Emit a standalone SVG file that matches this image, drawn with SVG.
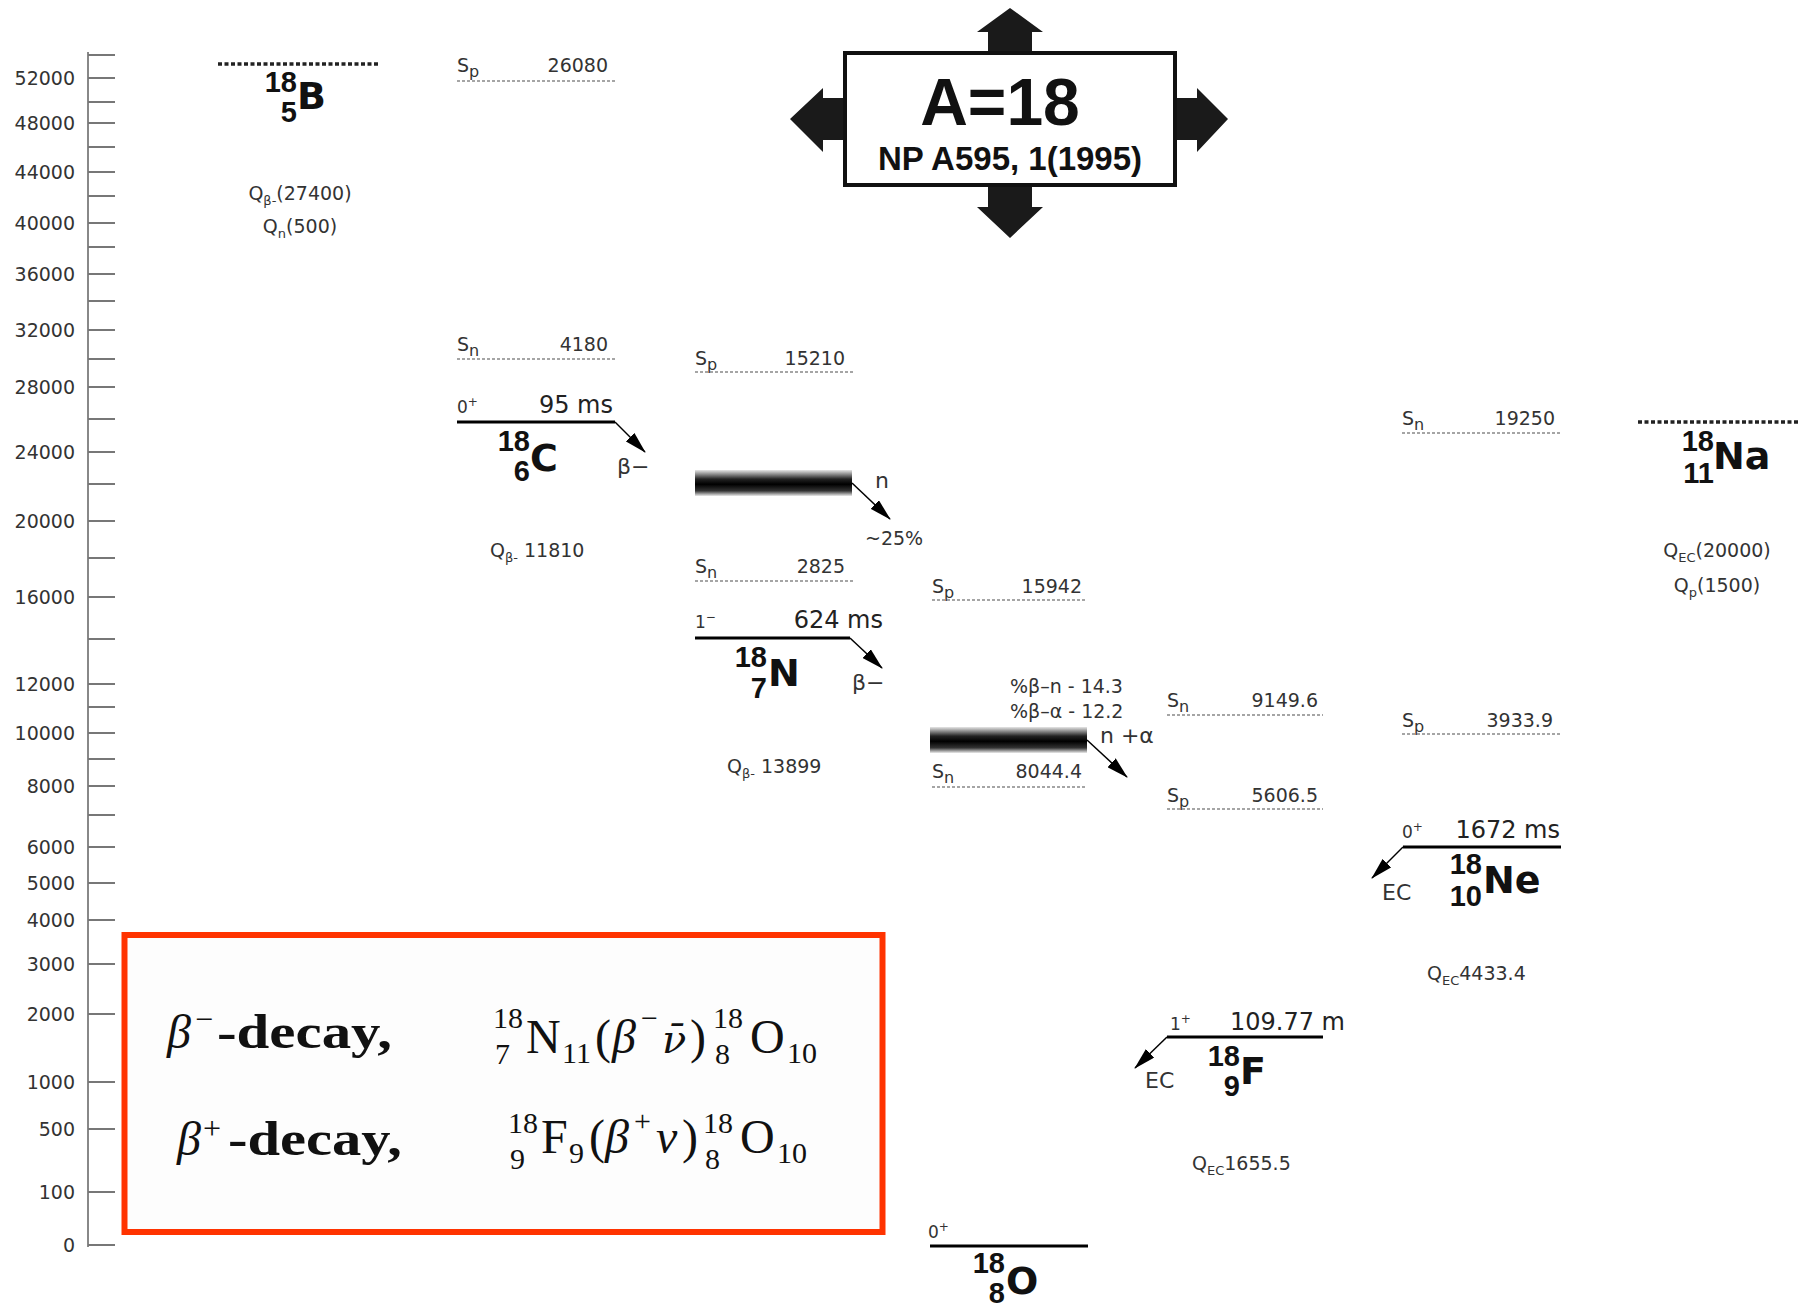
<svg xmlns="http://www.w3.org/2000/svg" width="1798" height="1307" viewBox="0 0 1798 1307">
<style>
.lbl{font-family:"DejaVu Sans",sans-serif;font-size:19px;fill:#333}
.ax{font-family:"DejaVu Sans",sans-serif;font-size:19px;fill:#333;text-anchor:end}
.end{text-anchor:end}
.sub{font-size:16px}
.qs{font-size:13px}
.sym{font-family:"DejaVu Sans",sans-serif;font-weight:bold;font-size:38px;fill:#111}
.num{font-family:"Liberation Sans",sans-serif;font-weight:bold;font-size:29px;fill:#111;text-anchor:end}
.life{font-family:"DejaVu Sans",sans-serif;font-size:24px;fill:#222}
.spin{font-family:"DejaVu Sans",sans-serif;font-size:17px;fill:#333}
.dec{font-family:"DejaVu Sans",sans-serif;font-size:22px;fill:#333}
.sep{stroke:#888;stroke-width:1.5;stroke-dasharray:3 2;fill:none}
.gs{stroke:#222;stroke-width:3.5;stroke-dasharray:4 2.5;fill:none}
.lev{stroke:#000;stroke-width:3}
.arr{stroke:#000;stroke-width:1.5;fill:none;marker-end:url(#ah)}
.tick{stroke:#777;stroke-width:2}
.blk{fill:#1a1a1a}
.m{font-family:"Liberation Serif",serif;fill:#111;font-size:48px}
.mi{font-style:italic}
.scr{font-size:30px}
</style>
<defs>
<marker id="ah" markerUnits="userSpaceOnUse" markerWidth="22" markerHeight="12" refX="21" refY="6" orient="auto">
<path d="M0,0 L22,6 L0,12 z" fill="#000"/>
</marker>
<linearGradient id="band" x1="0" y1="0" x2="0" y2="1">
<stop offset="0" stop-color="#e6e6e6"/>
<stop offset="0.35" stop-color="#222"/>
<stop offset="0.55" stop-color="#000"/>
<stop offset="0.8" stop-color="#333"/>
<stop offset="1" stop-color="#eaeaea"/>
</linearGradient>
</defs>
<rect width="1798" height="1307" fill="#fff"/>

<g id="axis">
<line x1="88" y1="52" x2="88" y2="1247" stroke="#888" stroke-width="2"/>
<g class="tick">
<line x1="88" y1="55" x2="115" y2="55"/><line x1="88" y1="78" x2="115" y2="78"/><line x1="88" y1="102" x2="115" y2="102"/><line x1="88" y1="123" x2="115" y2="123"/><line x1="88" y1="147" x2="115" y2="147"/><line x1="88" y1="172" x2="115" y2="172"/><line x1="88" y1="196" x2="115" y2="196"/><line x1="88" y1="223" x2="115" y2="223"/><line x1="88" y1="247" x2="115" y2="247"/><line x1="88" y1="274" x2="115" y2="274"/><line x1="88" y1="301" x2="115" y2="301"/><line x1="88" y1="330" x2="115" y2="330"/><line x1="88" y1="359" x2="115" y2="359"/><line x1="88" y1="387" x2="115" y2="387"/><line x1="88" y1="419" x2="115" y2="419"/><line x1="88" y1="452" x2="115" y2="452"/><line x1="88" y1="484" x2="115" y2="484"/><line x1="88" y1="521" x2="115" y2="521"/><line x1="88" y1="558" x2="115" y2="558"/><line x1="88" y1="597" x2="115" y2="597"/><line x1="88" y1="639" x2="115" y2="639"/><line x1="88" y1="684" x2="115" y2="684"/><line x1="88" y1="707" x2="115" y2="707"/><line x1="88" y1="733" x2="115" y2="733"/><line x1="88" y1="759" x2="115" y2="759"/><line x1="88" y1="786" x2="115" y2="786"/><line x1="88" y1="815" x2="115" y2="815"/><line x1="88" y1="847" x2="115" y2="847"/><line x1="88" y1="883" x2="115" y2="883"/><line x1="88" y1="920" x2="115" y2="920"/><line x1="88" y1="964" x2="115" y2="964"/><line x1="88" y1="1014" x2="115" y2="1014"/><line x1="88" y1="1082" x2="115" y2="1082"/><line x1="88" y1="1129" x2="115" y2="1129"/><line x1="88" y1="1192" x2="115" y2="1192"/><line x1="88" y1="1245" x2="115" y2="1245"/>
</g>
<text class="ax" x="75" y="85">52000</text>
<text class="ax" x="75" y="130">48000</text>
<text class="ax" x="75" y="179">44000</text>
<text class="ax" x="75" y="230">40000</text>
<text class="ax" x="75" y="281">36000</text>
<text class="ax" x="75" y="337">32000</text>
<text class="ax" x="75" y="394">28000</text>
<text class="ax" x="75" y="459">24000</text>
<text class="ax" x="75" y="528">20000</text>
<text class="ax" x="75" y="604">16000</text>
<text class="ax" x="75" y="691">12000</text>
<text class="ax" x="75" y="740">10000</text>
<text class="ax" x="75" y="793">8000</text>
<text class="ax" x="75" y="854">6000</text>
<text class="ax" x="75" y="890">5000</text>
<text class="ax" x="75" y="927">4000</text>
<text class="ax" x="75" y="971">3000</text>
<text class="ax" x="75" y="1021">2000</text>
<text class="ax" x="75" y="1089">1000</text>
<text class="ax" x="75" y="1136">500</text>
<text class="ax" x="75" y="1199">100</text>
<text class="ax" x="75" y="1252">0</text>
</g>

<g id="title">
<polygon class="blk" points="988,53 988,32 977,32 1010,8 1043,32 1032,32 1032,53"/>
<polygon class="blk" points="988,185 988,207 977,207 1010,238 1043,207 1032,207 1032,185"/>
<polygon class="blk" points="845,98 823,98 823,88 790,119 823,152 823,140 845,140"/>
<polygon class="blk" points="1175,98 1197,98 1197,88 1228,119 1197,152 1197,140 1175,140"/>
<rect x="845" y="53" width="330" height="132" fill="#fff" stroke="#111" stroke-width="4"/>
<text x="1000" y="125" text-anchor="middle" font-family="Liberation Sans, sans-serif" font-weight="bold" font-size="66" fill="#111">A=18</text>
<text x="1010" y="170" text-anchor="middle" font-family="Liberation Sans, sans-serif" font-weight="bold" font-size="33" fill="#111">NP A595, 1(1995)</text>
</g>

<g id="n18B">
<line class="gs" x1="218" y1="64" x2="378" y2="64"/>
<text class="num" x="297" y="92">18</text>
<text class="num" x="297" y="122">5</text>
<text class="sym" x="297" y="109">B</text>
<text class="lbl" x="300" y="200" text-anchor="middle">Q<tspan class="qs" dy="5">β-</tspan><tspan dy="-5">(27400)</tspan></text>
<text class="lbl" x="300" y="233" text-anchor="middle">Q<tspan class="qs" dy="5">n</tspan><tspan dy="-5">(500)</tspan></text>
</g>

<g id="n18C">
<text class="lbl" x="457" y="72">S<tspan class="sub" dy="5">p</tspan></text>
<text class="lbl end" x="608" y="72">26080</text>
<line class="sep" x1="457" y1="81" x2="617" y2="81"/>
<text class="lbl" x="457" y="351">S<tspan class="sub" dy="5">n</tspan></text>
<text class="lbl end" x="608" y="351">4180</text>
<line class="sep" x1="457" y1="359" x2="617" y2="359"/>
<text class="spin" x="457" y="413">0<tspan font-size="12" dy="-7">+</tspan></text>
<text class="life end" x="613" y="413">95 ms</text>
<line class="lev" x1="457" y1="422" x2="615" y2="422"/>
<text class="num" x="530" y="451">18</text>
<text class="num" x="530" y="481">6</text>
<text class="sym" x="530" y="471">C</text>
<text class="dec" x="617" y="474">β−</text>
<text class="lbl" x="490" y="557">Q<tspan class="qs" dy="5">β-</tspan><tspan dy="-5"> 11810</tspan></text>
</g>

<g id="n18N">
<text class="lbl" x="695" y="365">S<tspan class="sub" dy="5">p</tspan></text>
<text class="lbl end" x="845" y="365">15210</text>
<line class="sep" x1="695" y1="372" x2="853" y2="372"/>
<rect x="695" y="470" width="157" height="26" fill="url(#band)"/>
<text class="dec" x="875" y="488">n</text>
<text class="lbl" x="865" y="545">~25%</text>
<text class="lbl" x="695" y="573">S<tspan class="sub" dy="5">n</tspan></text>
<text class="lbl end" x="845" y="573">2825</text>
<line class="sep" x1="695" y1="581" x2="853" y2="581"/>
<text class="spin" x="695" y="628">1<tspan font-size="12" dy="-7">−</tspan></text>
<text class="life end" x="883" y="628">624 ms</text>
<line class="lev" x1="695" y1="638" x2="850" y2="638"/>
<text class="num" x="767" y="667">18</text>
<text class="num" x="767" y="698">7</text>
<text class="sym" x="768" y="686">N</text>
<text class="dec" x="852" y="690">β−</text>
<text class="lbl" x="727" y="773">Q<tspan class="qs" dy="5">β-</tspan><tspan dy="-5"> 13899</tspan></text>
</g>

<g id="n18O">
<text class="lbl" x="932" y="593">S<tspan class="sub" dy="5">p</tspan></text>
<text class="lbl end" x="1082" y="593">15942</text>
<line class="sep" x1="932" y1="600" x2="1087" y2="600"/>
<text class="lbl" x="1010" y="693" font-size="18">%β–n - 14.3</text>
<text class="lbl" x="1010" y="718" font-size="18">%β–α - 12.2</text>
<rect x="930" y="727" width="157" height="26" fill="url(#band)"/>
<text class="dec" x="1100" y="743">n +α</text>
<text class="lbl" x="932" y="778">S<tspan class="sub" dy="5">n</tspan></text>
<text class="lbl end" x="1082" y="778">8044.4</text>
<line class="sep" x1="932" y1="787" x2="1087" y2="787"/>
<text class="spin" x="928" y="1238">0<tspan font-size="12" dy="-7">+</tspan></text>
<line class="lev" x1="930" y1="1246" x2="1088" y2="1246"/>
<text class="num" x="1005" y="1273">18</text>
<text class="num" x="1005" y="1303">8</text>
<text class="sym" x="1006" y="1294">O</text>
</g>

<g id="n18F">
<text class="lbl" x="1167" y="707">S<tspan class="sub" dy="5">n</tspan></text>
<text class="lbl end" x="1318" y="707">9149.6</text>
<line class="sep" x1="1167" y1="715" x2="1323" y2="715"/>
<text class="lbl" x="1167" y="802">S<tspan class="sub" dy="5">p</tspan></text>
<text class="lbl end" x="1318" y="802">5606.5</text>
<line class="sep" x1="1167" y1="809" x2="1323" y2="809"/>
<text class="spin" x="1170" y="1030">1<tspan font-size="12" dy="-7">+</tspan></text>
<text class="life end" x="1345" y="1030">109.77 m</text>
<line class="lev" x1="1167" y1="1037" x2="1323" y2="1037"/>
<text class="num" x="1240" y="1066">18</text>
<text class="num" x="1240" y="1096">9</text>
<text class="sym" x="1240" y="1084">F</text>
<text class="dec" x="1145" y="1088" font-size="26">EC</text>
<text class="lbl" x="1192" y="1170">Q<tspan class="qs" dy="5">EC</tspan><tspan dy="-5">1655.5</tspan></text>
</g>

<g id="n18Ne">
<text class="lbl" x="1402" y="425">S<tspan class="sub" dy="5">n</tspan></text>
<text class="lbl end" x="1555" y="425">19250</text>
<line class="sep" x1="1402" y1="433" x2="1562" y2="433"/>
<text class="lbl" x="1402" y="727">S<tspan class="sub" dy="5">p</tspan></text>
<text class="lbl end" x="1553" y="727">3933.9</text>
<line class="sep" x1="1402" y1="734" x2="1562" y2="734"/>
<text class="spin" x="1402" y="838">0<tspan font-size="12" dy="-7">+</tspan></text>
<text class="life end" x="1560" y="838">1672 ms</text>
<line class="lev" x1="1403" y1="847" x2="1561" y2="847"/>
<text class="num" x="1482" y="874">18</text>
<text class="num" x="1482" y="906">10</text>
<text class="sym" x="1483" y="893">Ne</text>
<text class="dec" x="1382" y="900" font-size="26">EC</text>
<text class="lbl" x="1427" y="980">Q<tspan class="qs" dy="5">EC</tspan><tspan dy="-5">4433.4</tspan></text>
</g>

<g id="n18Na">
<line class="gs" x1="1638" y1="422" x2="1798" y2="422"/>
<text class="num" x="1714" y="451">18</text>
<text class="num" x="1714" y="483">11</text>
<text class="sym" x="1713" y="469">Na</text>
<text class="lbl" x="1717" y="557" text-anchor="middle">Q<tspan class="qs" dy="5">EC</tspan><tspan dy="-5">(20000)</tspan></text>
<text class="lbl" x="1717" y="592" text-anchor="middle">Q<tspan class="qs" dy="5">p</tspan><tspan dy="-5">(1500)</tspan></text>
</g>

<g id="connectors">
<line class="arr" x1="615" y1="422" x2="645" y2="452"/>
<line class="arr" x1="852" y1="483" x2="890" y2="519"/>
<line class="arr" x1="850" y1="638" x2="882" y2="668"/>
<line class="arr" x1="1087" y1="740" x2="1127" y2="777"/>
<line class="arr" x1="1167" y1="1037" x2="1135" y2="1068"/>
<line class="arr" x1="1403" y1="847" x2="1372" y2="878"/>
</g>

<g id="legend">
<rect x="124.5" y="935" width="758" height="297" fill="#fdfdfd" stroke="#ff3300" stroke-width="6"/>
<text class="m" font-size="52"><tspan class="mi" x="167" y="1048">β</tspan><tspan x="195" y="1030" font-size="32">−</tspan><tspan x="217" y="1048" font-weight="bold" textLength="175" lengthAdjust="spacingAndGlyphs">-decay,</tspan></text>
<text class="m" font-size="52"><tspan class="mi" x="177" y="1155">β</tspan><tspan x="203" y="1139" font-size="32">+</tspan><tspan x="228" y="1155" font-weight="bold" textLength="174" lengthAdjust="spacingAndGlyphs">-decay,</tspan></text>

<text class="m"><tspan class="scr" x="493" y="1028">18</tspan><tspan class="scr" x="495" y="1064">7</tspan><tspan x="526" y="1053">N</tspan><tspan class="scr" x="562" y="1063">11</tspan><tspan x="595" y="1053">(</tspan><tspan class="mi" x="612" y="1053">β</tspan><tspan class="scr" x="641" y="1028">−</tspan><tspan class="mi" x="662" y="1053" font-family="DejaVu Serif, serif" font-size="40">ν̄</tspan><tspan x="690" y="1053">)</tspan><tspan class="scr" x="713" y="1028">18</tspan><tspan class="scr" x="715" y="1064">8</tspan><tspan x="750" y="1053">O</tspan><tspan class="scr" x="787" y="1063">10</tspan></text>

<text class="m"><tspan class="scr" x="508" y="1133">18</tspan><tspan class="scr" x="510" y="1169">9</tspan><tspan x="541" y="1153">F</tspan><tspan class="scr" x="569" y="1163">9</tspan><tspan x="589" y="1153">(</tspan><tspan class="mi" x="605" y="1153">β</tspan><tspan class="scr" x="634" y="1131">+</tspan><tspan class="mi" x="656" y="1153">ν</tspan><tspan x="682" y="1153">)</tspan><tspan class="scr" x="703" y="1133">18</tspan><tspan class="scr" x="705" y="1169">8</tspan><tspan x="740" y="1153">O</tspan><tspan class="scr" x="777" y="1163">10</tspan></text>
</g>
</svg>
